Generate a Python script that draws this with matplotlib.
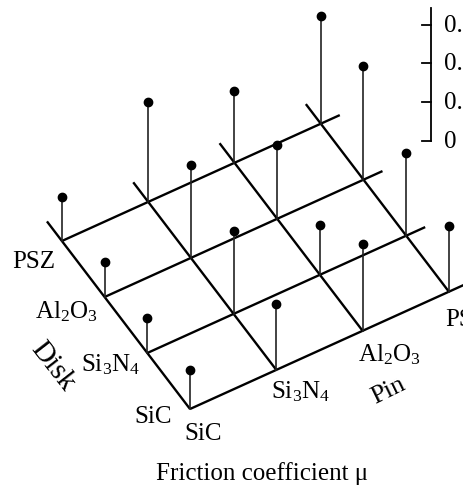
import matplotlib
matplotlib.use("Agg")
import matplotlib.pyplot as plt

# ---------------- data ----------------
pin_labels = ["SiC", "Si$_3$N$_4$", "Al$_2$O$_3$", "PSZ"]
disk_labels = ["SiC", "Si$_3$N$_4$", "Al$_2$O$_3$", "PSZ"]
# friction coefficient, rows = disk material, columns = pin material
mu_disk_sic = [0.20, 0.34, 0.45, 0.34]
mu_disk_si3n4 = [0.18, 0.43, 0.26, 0.43]
mu_disk_al2o3 = [0.18, 0.48, 0.38, 0.59]
mu_disk_psz = [0.23, 0.52, 0.37, 0.56]
mu_rows = [mu_disk_sic, mu_disk_si3n4, mu_disk_al2o3, mu_disk_psz]
z_ticks = [0.0, 0.2, 0.4, 0.6]
z_tick_labels = ["0", "0.2", "0.4", "0.6"]
z_axis_top = 0.69
x_title = "Friction coefficient \u03bc"

# ---------------- layout (oblique projection) ----------------
W, H = 464, 489
ORIGIN = (190.0, 410.0)       # front corner (SiC pin / SiC disk)
PIN_STEP = (86.3, -39.1)      # one pin category step on screen
DISK_STEP = (-42.7, -56.0)    # one disk category step (toward back)
Z_SCALE = 193.0               # screen units per unit of mu
PIN_EXT = 0.22
DISK_EXT = 0.35
Z_AXIS_ANCHOR = (3.84, 2.11)  # (pin, disk) position of the vertical scale


def proj(p, d, z=0.0):
    x = ORIGIN[0] + p * PIN_STEP[0] + d * DISK_STEP[0]
    y = ORIGIN[1] + p * PIN_STEP[1] + d * DISK_STEP[1] - z * Z_SCALE
    return x, y


plt.rcParams["font.family"] = ["Liberation Serif", "DejaVu Serif"]
plt.rcParams["mathtext.fontset"] = "custom"
plt.rcParams["mathtext.rm"] = "Liberation Serif"
plt.rcParams["mathtext.it"] = "Liberation Serif:italic"
FS = 18

fig = plt.figure(figsize=(W / 100, H / 100), dpi=100)
ax = fig.add_axes([0, 0, 1, 1])
ax.set_xlim(0, W)
ax.set_ylim(H, 0)
ax.axis("off")

n_pin = len(pin_labels)
n_disk = len(disk_labels)

# grid lines
for d in range(n_disk):
    x0, y0 = proj(0, d)
    x1, y1 = proj(n_pin - 1 + PIN_EXT, d)
    ax.plot([x0, x1], [y0, y1], color="black", lw=1.7, solid_capstyle="butt")
for p in range(n_pin):
    x0, y0 = proj(p, 0)
    x1, y1 = proj(p, n_disk - 1 + DISK_EXT)
    ax.plot([x0, x1], [y0, y1], color="black", lw=1.7, solid_capstyle="butt")

# stems
for d, row in enumerate(mu_rows):
    for p, v in enumerate(row):
        xb, yb = proj(p, d)
        xt, yt = proj(p, d, v)
        ax.plot([xb, xt], [yb, yt], color="#222222", lw=1.2)
        ax.plot([xt], [yt], "o", color="black", ms=6)

# vertical scale
ax0x, ax0y = proj(*Z_AXIS_ANCHOR, 0.0)
_, axty = proj(*Z_AXIS_ANCHOR, z_axis_top)
ax.plot([ax0x, ax0x], [ax0y, axty], color="black", lw=1.3)
for t, lab in zip(z_ticks, z_tick_labels):
    _, ty = proj(*Z_AXIS_ANCHOR, t)
    ax.plot([ax0x - 9, ax0x], [ty, ty], color="black", lw=1.3)
    ax.text(ax0x + 13, ty, lab, fontsize=FS, ha="left", va="center")

# disk category labels
disk_off = [(-18, 13), (-7, 17), (-7, 20), (-7, 26)]
for d, lab in enumerate(disk_labels):
    x, y = proj(0, d)
    ox, oy = disk_off[d]
    ax.text(x + ox, y + oy, lab, fontsize=FS, ha="right", va="baseline")

# pin category labels
pin_off = [(-6, 30), (-5, 27), (-5, 30), (-4, 33)]
for p, lab in enumerate(pin_labels):
    x, y = proj(p, 0)
    ox, oy = pin_off[p]
    ax.text(x + ox, y + oy, lab, fontsize=FS, ha="left", va="baseline")

# axis names
ax.text(53, 366, "Disk", fontsize=21, rotation=-52, ha="center", va="center",
        rotation_mode="anchor")
ax.text(388, 391, "Pin", fontsize=19, rotation=26, ha="center", va="center",
        rotation_mode="anchor")
ax.text(262, 474, x_title, fontsize=FS, ha="center", va="center")

fig.savefig("out.png", dpi=100)
